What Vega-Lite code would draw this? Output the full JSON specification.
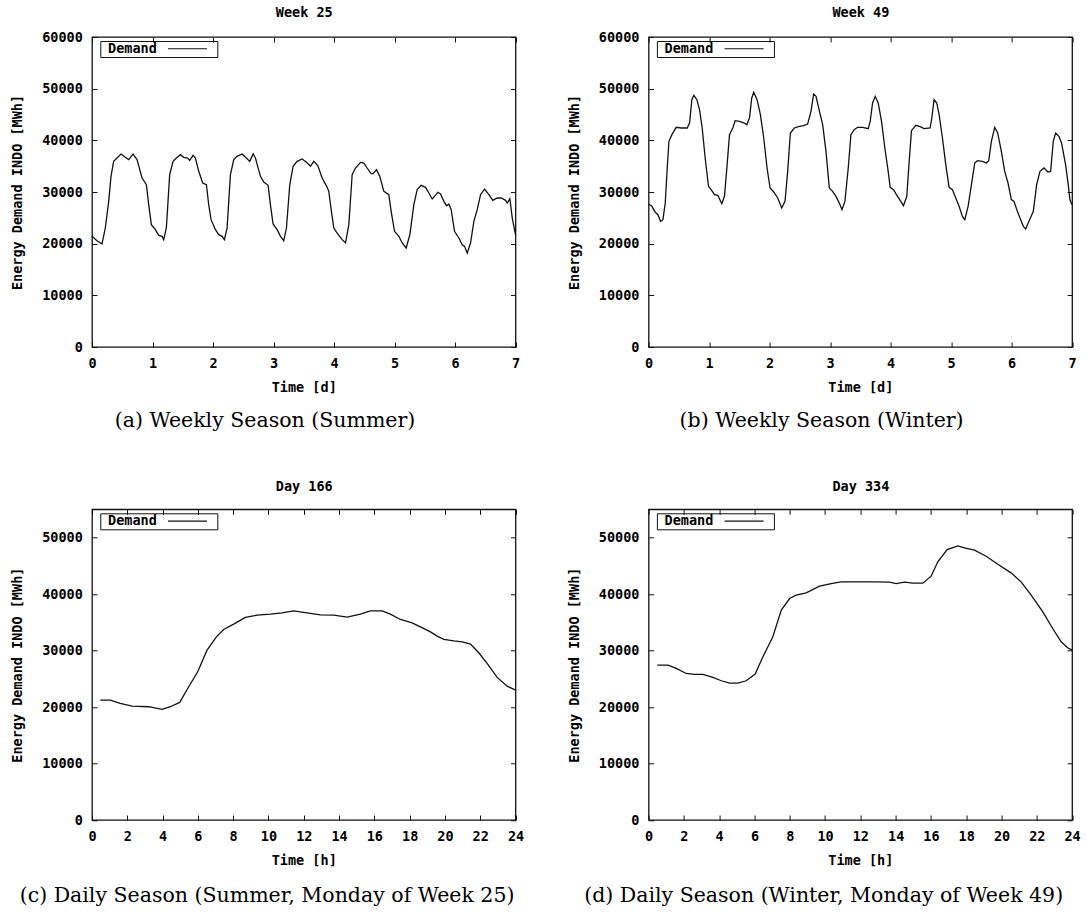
{
  "$schema": "https://vega.github.io/schema/vega-lite/v6.json",
  "background": "white",
  "padding": {"left": 9, "top": 5, "right": 5, "bottom": 5},
  "datasets": {
    "week25": [
      {"t":0,"v":21420},{"t":0.083,"v":20580},{"t":0.165,"v":19935},{"t":0.22,"v":23030},{"t":0.276,"v":28190},{"t":0.314,"v":33030},{"t":0.358,"v":35935},{"t":0.413,"v":36580},{"t":0.48,"v":37350},{"t":0.551,"v":36710},{"t":0.606,"v":36260},{"t":0.678,"v":37350},{"t":0.744,"v":36260},{"t":0.827,"v":32710},{"t":0.899,"v":31420},{"t":0.937,"v":27550},{"t":0.981,"v":23680},{"t":1.047,"v":22710},{"t":1.103,"v":21610},{"t":1.158,"v":21420},{"t":1.185,"v":20770},{"t":1.229,"v":23030},{"t":1.284,"v":33350},{"t":1.34,"v":35935},{"t":1.395,"v":36580},{"t":1.461,"v":37230},{"t":1.516,"v":36710},{"t":1.582,"v":36580},{"t":1.615,"v":36130},{"t":1.67,"v":37100},{"t":1.709,"v":36580},{"t":1.764,"v":34000},{"t":1.83,"v":31740},{"t":1.891,"v":31420},{"t":1.929,"v":27550},{"t":1.968,"v":24645},{"t":2.04,"v":22710},{"t":2.095,"v":21740},{"t":2.15,"v":21420},{"t":2.189,"v":20770},{"t":2.233,"v":23030},{"t":2.288,"v":33350},{"t":2.343,"v":36260},{"t":2.398,"v":36900},{"t":2.48,"v":37350},{"t":2.552,"v":36580},{"t":2.607,"v":35935},{"t":2.663,"v":37350},{"t":2.701,"v":36580},{"t":2.784,"v":33030},{"t":2.839,"v":31935},{"t":2.911,"v":31290},{"t":2.949,"v":27550},{"t":2.993,"v":23810},{"t":3.06,"v":22710},{"t":3.115,"v":21420},{"t":3.17,"v":20580},{"t":3.214,"v":23030},{"t":3.269,"v":31420},{"t":3.324,"v":34970},{"t":3.39,"v":35935},{"t":3.473,"v":36390},{"t":3.545,"v":35740},{"t":3.611,"v":34970},{"t":3.666,"v":35935},{"t":3.732,"v":35100},{"t":3.804,"v":32710},{"t":3.887,"v":30900},{"t":3.914,"v":30130},{"t":3.953,"v":26580},{"t":3.997,"v":23030},{"t":4.052,"v":22060},{"t":4.135,"v":20770},{"t":4.19,"v":20130},{"t":4.245,"v":23680},{"t":4.3,"v":33350},{"t":4.355,"v":34645},{"t":4.438,"v":35740},{"t":4.493,"v":35610},{"t":4.548,"v":34645},{"t":4.614,"v":33550},{"t":4.647,"v":33550},{"t":4.702,"v":34320},{"t":4.757,"v":33030},{"t":4.824,"v":30130},{"t":4.906,"v":29480},{"t":4.945,"v":26260},{"t":5.0,"v":22390},{"t":5.072,"v":21420},{"t":5.127,"v":20130},{"t":5.193,"v":19160},{"t":5.254,"v":21740},{"t":5.32,"v":27550},{"t":5.375,"v":30450},{"t":5.441,"v":31290},{"t":5.513,"v":30900},{"t":5.568,"v":29800},{"t":5.623,"v":28645},{"t":5.662,"v":29160},{"t":5.717,"v":29935},{"t":5.761,"v":29610},{"t":5.816,"v":28190},{"t":5.86,"v":27350},{"t":5.899,"v":27680},{"t":5.937,"v":26580},{"t":5.992,"v":22390},{"t":6.064,"v":21100},{"t":6.119,"v":19800},{"t":6.158,"v":19480},{"t":6.202,"v":18190},{"t":6.257,"v":20130},{"t":6.312,"v":24320},{"t":6.367,"v":26580},{"t":6.422,"v":29480},{"t":6.488,"v":30580},{"t":6.56,"v":29480},{"t":6.626,"v":28390},{"t":6.698,"v":28840},{"t":6.764,"v":28840},{"t":6.836,"v":28390},{"t":6.863,"v":27870},{"t":6.907,"v":28710},{"t":6.946,"v":24970},{"t":7.0,"v":21740}
    ],
    "week49": [
      {"t":0,"v":27680},{"t":0.055,"v":27230},{"t":0.11,"v":26060},{"t":0.154,"v":25610},{"t":0.198,"v":24300},{"t":0.237,"v":24650},{"t":0.275,"v":27870},{"t":0.308,"v":34645},{"t":0.336,"v":39810},{"t":0.385,"v":41100},{"t":0.457,"v":42520},{"t":0.539,"v":42390},{"t":0.638,"v":42390},{"t":0.677,"v":43350},{"t":0.715,"v":47870},{"t":0.748,"v":48710},{"t":0.798,"v":47870},{"t":0.842,"v":45935},{"t":0.886,"v":42390},{"t":0.935,"v":36580},{"t":0.99,"v":31100},{"t":1.034,"v":30450},{"t":1.089,"v":29480},{"t":1.144,"v":29350},{"t":1.21,"v":27740},{"t":1.254,"v":29160},{"t":1.298,"v":35290},{"t":1.337,"v":41100},{"t":1.392,"v":42390},{"t":1.43,"v":43800},{"t":1.502,"v":43680},{"t":1.584,"v":43350},{"t":1.623,"v":43030},{"t":1.667,"v":44320},{"t":1.705,"v":48190},{"t":1.738,"v":49290},{"t":1.793,"v":47870},{"t":1.848,"v":44970},{"t":1.903,"v":40450},{"t":1.958,"v":34645},{"t":2.008,"v":30770},{"t":2.068,"v":30000},{"t":2.134,"v":28840},{"t":2.2,"v":26900},{"t":2.255,"v":28190},{"t":2.299,"v":34000},{"t":2.343,"v":41420},{"t":2.409,"v":42390},{"t":2.492,"v":42710},{"t":2.563,"v":42840},{"t":2.629,"v":43160},{"t":2.684,"v":45610},{"t":2.728,"v":48970},{"t":2.767,"v":48520},{"t":2.805,"v":46580},{"t":2.877,"v":43030},{"t":2.932,"v":37870},{"t":2.987,"v":30770},{"t":3.042,"v":30130},{"t":3.097,"v":29160},{"t":3.152,"v":27870},{"t":3.196,"v":26580},{"t":3.245,"v":28190},{"t":3.3,"v":34645},{"t":3.344,"v":41100},{"t":3.399,"v":42060},{"t":3.454,"v":42520},{"t":3.537,"v":42520},{"t":3.63,"v":42260},{"t":3.663,"v":43680},{"t":3.702,"v":47230},{"t":3.746,"v":48520},{"t":3.795,"v":47230},{"t":3.85,"v":43680},{"t":3.905,"v":38520},{"t":3.96,"v":34000},{"t":3.993,"v":30900},{"t":4.048,"v":30450},{"t":4.114,"v":29160},{"t":4.169,"v":28190},{"t":4.213,"v":27350},{"t":4.268,"v":29160},{"t":4.307,"v":35935},{"t":4.345,"v":41870},{"t":4.417,"v":42900},{"t":4.488,"v":42650},{"t":4.554,"v":42260},{"t":4.653,"v":42390},{"t":4.681,"v":44320},{"t":4.719,"v":47870},{"t":4.763,"v":47230},{"t":4.802,"v":44970},{"t":4.857,"v":40450},{"t":4.912,"v":35290},{"t":4.967,"v":30900},{"t":5.022,"v":30450},{"t":5.077,"v":28840},{"t":5.132,"v":27230},{"t":5.187,"v":25290},{"t":5.226,"v":24650},{"t":5.281,"v":27230},{"t":5.336,"v":31420},{"t":5.391,"v":35610},{"t":5.435,"v":36060},{"t":5.517,"v":35935},{"t":5.583,"v":35610},{"t":5.622,"v":36060},{"t":5.666,"v":39810},{"t":5.721,"v":42520},{"t":5.77,"v":41420},{"t":5.825,"v":38190},{"t":5.886,"v":34000},{"t":5.941,"v":31740},{"t":5.996,"v":28520},{"t":6.04,"v":28190},{"t":6.095,"v":26260},{"t":6.139,"v":24970},{"t":6.194,"v":23350},{"t":6.232,"v":22840},{"t":6.287,"v":24320},{"t":6.359,"v":26260},{"t":6.414,"v":31420},{"t":6.469,"v":34000},{"t":6.535,"v":34645},{"t":6.601,"v":33870},{"t":6.645,"v":34000},{"t":6.689,"v":39810},{"t":6.727,"v":41420},{"t":6.782,"v":40770},{"t":6.826,"v":39480},{"t":6.892,"v":35290},{"t":6.936,"v":31420},{"t":6.964,"v":28500},{"t":7.0,"v":27500}
    ],
    "day166": [
      {"t":0.47,"v":21230},{"t":1.04,"v":21230},{"t":1.6,"v":20640},{"t":2.27,"v":20160},{"t":3.21,"v":20050},{"t":3.97,"v":19580},{"t":4.44,"v":20050},{"t":4.97,"v":20810},{"t":5.48,"v":23580},{"t":5.99,"v":26240},{"t":6.52,"v":30070},{"t":7.05,"v":32430},{"t":7.46,"v":33730},{"t":8.03,"v":34670},{"t":8.69,"v":35850},{"t":9.35,"v":36260},{"t":10.11,"v":36440},{"t":10.77,"v":36670},{"t":11.43,"v":37030},{"t":12.19,"v":36670},{"t":12.94,"v":36320},{"t":13.7,"v":36260},{"t":14.46,"v":35910},{"t":15.21,"v":36440},{"t":15.78,"v":37030},{"t":16.44,"v":37030},{"t":16.91,"v":36440},{"t":17.48,"v":35500},{"t":18.14,"v":34910},{"t":18.61,"v":34200},{"t":19.18,"v":33310},{"t":19.56,"v":32550},{"t":19.94,"v":31960},{"t":20.5,"v":31720},{"t":20.98,"v":31550},{"t":21.45,"v":31130},{"t":21.92,"v":29600},{"t":22.39,"v":27710},{"t":22.96,"v":25240},{"t":23.53,"v":23700},{"t":24.0,"v":23000}
    ],
    "day334": [
      {"t":0.49,"v":27420},{"t":1.1,"v":27420},{"t":1.57,"v":26830},{"t":2.13,"v":25940},{"t":2.6,"v":25770},{"t":3.08,"v":25770},{"t":3.64,"v":25240},{"t":4.12,"v":24650},{"t":4.59,"v":24230},{"t":5.06,"v":24230},{"t":5.53,"v":24650},{"t":6.04,"v":25830},{"t":6.48,"v":28890},{"t":7.04,"v":32430},{"t":7.52,"v":37150},{"t":7.99,"v":39210},{"t":8.36,"v":39800},{"t":8.93,"v":40210},{"t":9.69,"v":41390},{"t":10.35,"v":41860},{"t":10.91,"v":42160},{"t":11.86,"v":42160},{"t":12.8,"v":42160},{"t":13.65,"v":42100},{"t":14.03,"v":41860},{"t":14.5,"v":42100},{"t":14.97,"v":41920},{"t":15.54,"v":41920},{"t":16.01,"v":43160},{"t":16.39,"v":45700},{"t":16.92,"v":47880},{"t":17.52,"v":48530},{"t":17.9,"v":48170},{"t":18.47,"v":47760},{"t":19.13,"v":46700},{"t":19.79,"v":45280},{"t":20.54,"v":43750},{"t":21.11,"v":42160},{"t":21.68,"v":39800},{"t":22.34,"v":36850},{"t":22.9,"v":33900},{"t":23.38,"v":31540},{"t":23.75,"v":30480},{"t":24.0,"v":30070}
    ]
  },
  "columns": 2,
  "spacing": {"row": 162.3, "column": 132.6},
  "bounds": "flush",
  "resolve": {"scale": {"stroke": "independent"}, "legend": {"stroke": "independent"}},
  "concat": [
    {
      "width": 423.5, "height": 310,
      "data": {"name": "week25"},
      "title": {"text": "(a) Weekly Season (Summer)", "offset": 17},
      "layer": [
        {
          "mark": {"type": "line", "strokeWidth": 1.3},
          "encoding": {
            "x": {"field": "t", "type": "quantitative", "scale": {"domain": [0, 7], "nice": false},
                  "axis": {"orient": "bottom", "values": [0,1,2,3,4,5,6,7], "format": "d", "title": "Time [d]", "labelPadding": 14, "titlePadding": 10.5}},
            "y": {"field": "v", "type": "quantitative", "scale": {"domain": [0, 60000], "nice": false},
                  "axis": {"orient": "left", "values": [0,10000,20000,30000,40000,50000,60000], "format": "d", "title": "Energy Demand INDO [MWh]", "labelPadding": 14.7, "titlePadding": 17.2}},
            "stroke": {"datum": "Demand", "type": "nominal", "scale": {"range": ["#111111"]},
                       "legend": {"title": null, "orient": "none", "legendX": 8.3, "legendY": 4}}
          }
        },
        {
          "mark": {"type": "line", "opacity": 0},
          "encoding": {
            "x": {"field": "t", "type": "quantitative", "axis": {"orient": "top", "values": [0,1,2,3,4,5,6,7], "labels": false, "title": "Week 25", "titlePadding": 16.8}},
            "y": {"field": "v", "type": "quantitative", "axis": {"orient": "right", "values": [0,10000,20000,30000,40000,50000,60000], "labels": false, "title": null}}
          }
        }
      ],
      "resolve": {"axis": {"x": "independent", "y": "independent"}}
    },
    {
      "width": 423.5, "height": 310,
      "data": {"name": "week49"},
      "title": {"text": "(b) Weekly Season (Winter)", "offset": 17},
      "layer": [
        {
          "mark": {"type": "line", "strokeWidth": 1.3},
          "encoding": {
            "x": {"field": "t", "type": "quantitative", "scale": {"domain": [0, 7], "nice": false},
                  "axis": {"orient": "bottom", "values": [0,1,2,3,4,5,6,7], "format": "d", "title": "Time [d]", "labelPadding": 14, "titlePadding": 10.5}},
            "y": {"field": "v", "type": "quantitative", "scale": {"domain": [0, 60000], "nice": false},
                  "axis": {"orient": "left", "values": [0,10000,20000,30000,40000,50000,60000], "format": "d", "title": "Energy Demand INDO [MWh]", "labelPadding": 14.7, "titlePadding": 17.2}},
            "stroke": {"datum": "Demand", "type": "nominal", "scale": {"range": ["#111111"]},
                       "legend": {"title": null, "orient": "none", "legendX": 8.3, "legendY": 4}}
          }
        },
        {
          "mark": {"type": "line", "opacity": 0},
          "encoding": {
            "x": {"field": "t", "type": "quantitative", "axis": {"orient": "top", "values": [0,1,2,3,4,5,6,7], "labels": false, "title": "Week 49", "titlePadding": 16.8}},
            "y": {"field": "v", "type": "quantitative", "axis": {"orient": "right", "values": [0,10000,20000,30000,40000,50000,60000], "labels": false, "title": null}}
          }
        }
      ],
      "resolve": {"axis": {"x": "independent", "y": "independent"}}
    },
    {
      "width": 423.5, "height": 310.7,
      "data": {"name": "day166"},
      "title": {"text": "(c) Daily Season (Summer, Monday of Week 25)", "offset": 19.5},
      "layer": [
        {
          "mark": {"type": "line", "strokeWidth": 1.3},
          "encoding": {
            "x": {"field": "t", "type": "quantitative", "scale": {"domain": [0, 24], "nice": false},
                  "axis": {"orient": "bottom", "values": [0,2,4,6,8,10,12,14,16,18,20,22,24], "format": "d", "title": "Time [h]", "labelPadding": 14, "titlePadding": 10.5}},
            "y": {"field": "v", "type": "quantitative", "scale": {"domain": [0, 55000], "nice": false},
                  "axis": {"orient": "left", "values": [0,10000,20000,30000,40000,50000], "format": "d", "title": "Energy Demand INDO [MWh]", "labelPadding": 14.7, "titlePadding": 17.2}},
            "stroke": {"datum": "Demand", "type": "nominal", "scale": {"range": ["#111111"]},
                       "legend": {"title": null, "orient": "none", "legendX": 8.3, "legendY": 4}}
          }
        },
        {
          "mark": {"type": "line", "opacity": 0},
          "encoding": {
            "x": {"field": "t", "type": "quantitative", "axis": {"orient": "top", "values": [0,2,4,6,8,10,12,14,16,18,20,22,24], "labels": false, "title": "Day 166", "titlePadding": 15.4}},
            "y": {"field": "v", "type": "quantitative", "axis": {"orient": "right", "values": [0,10000,20000,30000,40000,50000], "labels": false, "title": null}}
          }
        }
      ],
      "resolve": {"axis": {"x": "independent", "y": "independent"}}
    },
    {
      "width": 423.5, "height": 310.7,
      "data": {"name": "day334"},
      "title": {"text": "(d) Daily Season (Winter, Monday of Week 49)", "offset": 19.5},
      "layer": [
        {
          "mark": {"type": "line", "strokeWidth": 1.3},
          "encoding": {
            "x": {"field": "t", "type": "quantitative", "scale": {"domain": [0, 24], "nice": false},
                  "axis": {"orient": "bottom", "values": [0,2,4,6,8,10,12,14,16,18,20,22,24], "format": "d", "title": "Time [h]", "labelPadding": 14, "titlePadding": 10.5}},
            "y": {"field": "v", "type": "quantitative", "scale": {"domain": [0, 55000], "nice": false},
                  "axis": {"orient": "left", "values": [0,10000,20000,30000,40000,50000], "format": "d", "title": "Energy Demand INDO [MWh]", "labelPadding": 14.7, "titlePadding": 17.2}},
            "stroke": {"datum": "Demand", "type": "nominal", "scale": {"range": ["#111111"]},
                       "legend": {"title": null, "orient": "none", "legendX": 8.3, "legendY": 4}}
          }
        },
        {
          "mark": {"type": "line", "opacity": 0},
          "encoding": {
            "x": {"field": "t", "type": "quantitative", "axis": {"orient": "top", "values": [0,2,4,6,8,10,12,14,16,18,20,22,24], "labels": false, "title": "Day 334", "titlePadding": 15.4}},
            "y": {"field": "v", "type": "quantitative", "axis": {"orient": "right", "values": [0,10000,20000,30000,40000,50000], "labels": false, "title": null}}
          }
        }
      ],
      "resolve": {"axis": {"x": "independent", "y": "independent"}}
    }
  ],
  "config": {
    "view": {"stroke": "#111111", "strokeWidth": 1.3},
    "axis": {
      "domain": false, "grid": false, "ticks": true, "tickSize": -5, "tickColor": "#111111", "tickWidth": 1,
      "labelFont": "DejaVu Sans Mono", "labelFontSize": 13.5, "labelFontWeight": "bold", "labelColor": "#000000",
      "labelFlush": false, "labelOverlap": false, "labelBound": false,
      "titleFont": "DejaVu Sans Mono", "titleFontSize": 13.5, "titleFontWeight": "bold", "titleColor": "#000000"
    },
    "legend": {
      "labelFont": "DejaVu Sans Mono", "labelFontSize": 13.5, "labelFontWeight": "bold", "labelOffset": -6.8, "labelColor": "#000000",
      "symbolType": "M59.95,0H98.95M105.75,0", "symbolSize": 4, "symbolStrokeWidth": 1.2, "symbolStrokeColor": "#111111", "symbolFillColor": "transparent",
      "strokeColor": "#111111", "padding": 1
    },
    "title": {
      "orient": "bottom", "frame": "bounds", "anchor": "middle",
      "font": "DejaVu Serif", "fontSize": 20.5, "fontWeight": "normal", "color": "#000000"
    }
  }
}
